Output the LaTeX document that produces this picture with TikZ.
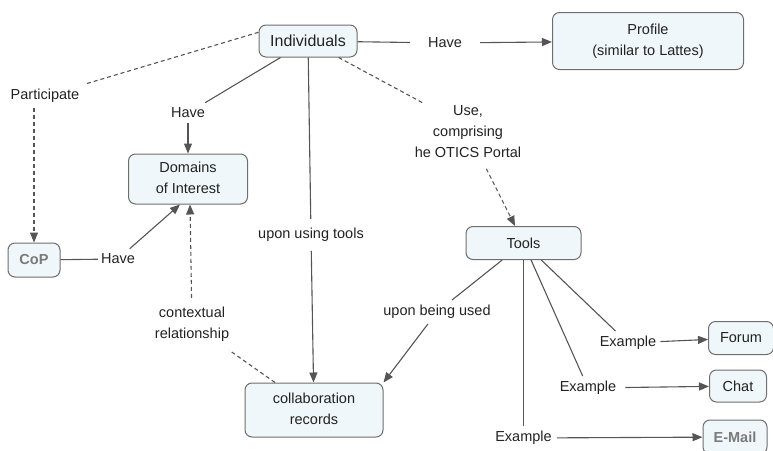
\documentclass[tikz,border=0pt]{standalone}
\usepackage{fontspec}
\setmainfont{Liberation Sans}
\usepackage{tikz}
\usetikzlibrary{%
  arrows.meta,%
  calc,%
  positioning}

\definecolor{boxfill}{HTML}{F0F7FA}
\definecolor{boxline}{HTML}{6E6E6E}
\definecolor{lienline}{HTML}{555555}
\definecolor{texte}{HTML}{222222}
\definecolor{textegris}{HTML}{7A7A7A}

\begin{document}
\begin{tikzpicture}[
  concept/.style={rectangle,rounded corners=7pt,draw=boxline,fill=boxfill,line width=1pt,
    text=texte,inner sep=2pt,font=\fontsize{14.5}{21}\selectfont},
  etiquette/.style={inner sep=5pt,text=texte,font=\fontsize{14.5}{21}\selectfont},
  lien/.style={draw=lienline,line width=1.1pt},
  fleche/.style={lien,-{Triangle[length=10pt,width=8pt]}},
  pointille/.style={dash pattern=on 4pt off 3pt}]
\begin{scope}[x=1pt,y=-1pt]
\useasboundingbox (0,0) rectangle (773,450);
% description et nommage des noeuds
\node (ind) at (308,41) [concept,minimum width=98pt,minimum height=32pt,font=\fontsize{16}{19}\selectfont] {Individuals};
\node (prof) at (648,41) [concept,minimum width=191pt,minimum height=57pt] {\begin{tabular}{c}Profile\\(similar to Lattes)\end{tabular}};
\node (dom) at (188,179) [concept,minimum width=119pt,minimum height=50pt] {\begin{tabular}{c}Domains\\of Interest\end{tabular}};
\node (cop) at (34,260) [concept,minimum width=52pt,minimum height=34pt,text=textegris] {\textbf{CoP}};
\node (coll) at (314,410) [concept,minimum width=138pt,minimum height=54pt] {\begin{tabular}{c}collaboration\\records\end{tabular}};
\node (tools) at (523.5,243) [concept,minimum width=115pt,minimum height=33pt] {Tools};
\node (forum) at (741,338) [concept,minimum width=65pt,minimum height=33pt] {Forum};
\node (chat) at (738,386) [concept,minimum width=57pt,minimum height=32pt] {Chat};
\node (mail) at (735,437) [concept,minimum width=64pt,minimum height=34pt,text=textegris] {\textbf{E-Mail}};
% etiquettes des liens
\node (have1) at (445,43) [etiquette,inner xsep=18pt] {Have};
\node (part) at (45,96) [etiquette] {Participate};
\node (have2) at (188,113) [etiquette] {Have};
\node (have3) at (118,259) [etiquette,inner xsep=3pt] {Have};
\node (ctx) at (192,324) [etiquette] {\begin{tabular}{c}contextual\\relationship\end{tabular}};
\node (using) at (311,235) [etiquette,inner sep=9pt] {upon using tools};
\node (use) at (468,132) [etiquette] {\begin{tabular}{c}Use,\\comprising\\he OTICS Portal\end{tabular}};
\node (beused) at (437,312) [etiquette] {upon being used};
\node (ex1) at (628,343) [etiquette,inner xsep=4pt] {Example};
\node (ex2) at (588,388) [etiquette,inner xsep=9pt] {Example};
\node (ex3) at (523.5,438) [etiquette,inner xsep=5pt] {Example};
% liens
\draw [lien] (ind) -- (have1);
\draw [fleche] (have1) -- (prof);
\draw [lien,pointille] (ind.170) -- (part);
\draw [fleche,pointille] (part.south -| cop.north) -- (cop);
\draw [lien] (ind) -- (have2);
\draw [fleche] (have2) -- (dom);
\draw [lien] (ind) -- (using);
\draw [fleche] (using) -- (coll);
\draw [lien,pointille] (ind) -- ([xshift=20pt,yshift=-8pt]use.north west);
\draw [fleche,pointille] (use) -- (tools);
\draw [lien] (cop) -- (have3);
\draw [fleche] (have3) -- ([xshift=-8pt]dom.south);
\draw [lien,pointille] (coll) -- (ctx);
\draw [fleche,pointille] (ctx) -- ([xshift=2pt]dom.south);
\draw [lien] (tools) -- (beused);
\draw [fleche] (beused) -- (coll.north east);
\draw [lien] (tools) -- (ex1);
\draw [fleche] (ex1) -- (forum);
\draw [lien] (tools) -- (ex2);
\draw [fleche] (ex2) -- (chat);
\draw [lien] (tools) -- (ex3);
\draw [fleche] (ex3) -- (mail);
\end{scope}
\end{tikzpicture}
\end{document}
